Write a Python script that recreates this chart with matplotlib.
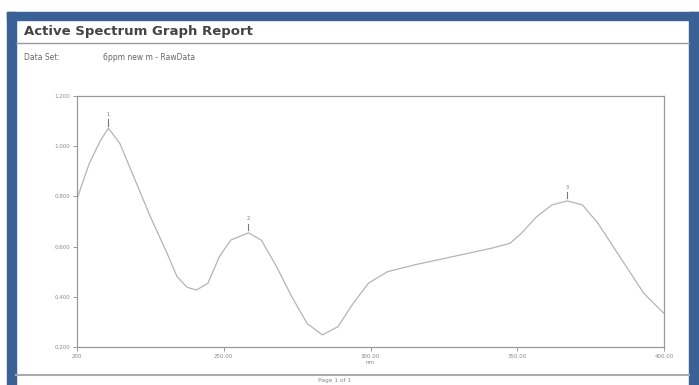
import matplotlib.pyplot as plt
from matplotlib.patches import Rectangle
from matplotlib.lines import Line2D

# spectrum (wavelength nm, absorbance)
wavelength = [200.0, 204.2, 208.1, 210.7, 214.6, 219.8, 225.0, 230.2, 234.1, 237.5,
              240.7, 244.6, 248.5, 252.4, 258.4, 262.8, 268.0, 273.2, 278.4, 283.6,
              288.9, 294.1, 299.3, 305.8, 314.9, 328.0, 341.0, 347.5, 351.4, 356.6,
              361.8, 367.0, 372.2, 377.5, 382.7, 387.9, 393.1, 400.0]
absorbance = [0.790, 0.932, 1.025, 1.072, 1.011, 0.865, 0.719, 0.586, 0.480, 0.438,
              0.427, 0.454, 0.560, 0.626, 0.655, 0.626, 0.520, 0.400, 0.294, 0.248,
              0.281, 0.374, 0.454, 0.500, 0.527, 0.560, 0.593, 0.613, 0.653, 0.719,
              0.766, 0.782, 0.766, 0.693, 0.600, 0.507, 0.414, 0.334]

peak_nm = [210.7, 258.4, 367.0]
peak_abs = [1.072, 0.655, 0.782]
peak_labels = ['1', '2', '3']

x_ticks = [200, 250, 300, 350, 400]
x_ticklabels = ['200', '250.00', '300.00', '350.00', '400.00']
y_ticks = [0.2, 0.4, 0.6, 0.8, 1.0, 1.2]
y_ticklabels = ['0.200', '0.400', '0.600', '0.800', '1.000', '1.200']

W, H = 699, 385
fig = plt.figure(figsize=(W / 100, H / 100), dpi=100)
fig.patch.set_facecolor('white')

blue = '#3b6096'
# page border (blue frame of the scanned report)
fig.add_artist(Rectangle((7 / W, 0), 9 / W, 1 - 12 / H, transform=fig.transFigure, color=blue, zorder=0))
fig.add_artist(Rectangle((7 / W, 1 - 20 / H), 1, 8 / H, transform=fig.transFigure, color=blue, zorder=0))
fig.add_artist(Rectangle((689 / W, 0), 10 / W, 1 - 12 / H, transform=fig.transFigure, color=blue, zorder=0))

fig.text(24 / W, 1 - 32 / H, 'Active Spectrum Graph Report', fontsize=9.5, color='#444444',
         fontweight='bold', va='center')
fig.add_artist(Line2D([16 / W, 689 / W], [1 - 43 / H, 1 - 43 / H], transform=fig.transFigure,
                      color='#999999', lw=1.0))
fig.text(24 / W, 1 - 57 / H, 'Data Set:', fontsize=5.5, color='#666666', va='center')
fig.text(103 / W, 1 - 57 / H, '6ppm new m - RawData', fontsize=5.5, color='#666666', va='center')

fig.add_artist(Line2D([16 / W, 689 / W], [1 - 375 / H, 1 - 375 / H], transform=fig.transFigure,
                      color='#aaaaaa', lw=1.5))
fig.text(335 / W, 1 - 380.5 / H, 'Page 1 of 1', fontsize=4.2, color='#888888', va='center', ha='center')

ax = fig.add_axes([77 / W, 1 - 347 / H, 587 / W, 251 / H])
ax.plot(wavelength, absorbance, color='#b4b4b4', lw=0.9)
for px, py, lab in zip(peak_nm, peak_abs, peak_labels):
    ax.plot([px, px], [py + 0.01, py + 0.035], color='#777777', lw=0.8)
    ax.text(px, py + 0.045, lab, fontsize=3.5, color='#777777', ha='center', va='bottom')

ax.set_xlim(200, 400)
ax.set_ylim(0.2, 1.2)
ax.set_xticks(x_ticks)
ax.set_xticklabels(x_ticklabels)
ax.set_yticks(y_ticks)
ax.set_yticklabels(y_ticklabels)
ax.tick_params(labelsize=4, colors='#888888', length=3, width=0.6, pad=2)
ax.set_xlabel('nm', fontsize=4, color='#888888', labelpad=1)
for s in ax.spines.values():
    s.set_color('#999999')
    s.set_linewidth(0.9)

fig.savefig('out.png', dpi=100, facecolor='white')
